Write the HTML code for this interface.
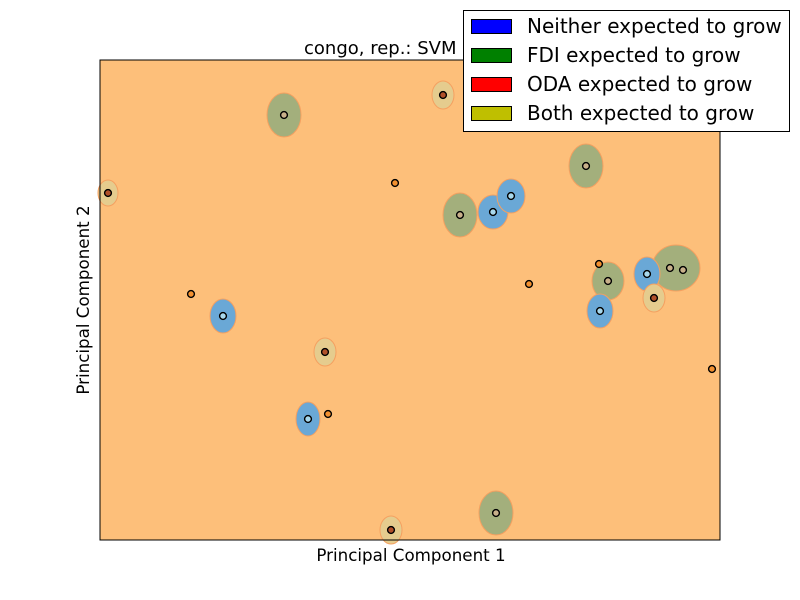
<!DOCTYPE html>
<html><head><meta charset="utf-8"><style>body{margin:0;background:#fff}svg{display:block;font-family:"DejaVu Sans","Liberation Sans",sans-serif}</style></head>
<body>
<svg id="c" width="800" height="600" xmlns="http://www.w3.org/2000/svg">
<text x="304" y="54" font-size="18">congo, rep.: SVM decision regions</text>
<rect x="100" y="60" width="620" height="480" fill="#fdbf7a"/>
<g id="regions"></g>
<g id="pts"></g>
<rect x="100" y="60" width="620" height="480" fill="none" stroke="#000" stroke-width="1"/>
<text x="411" y="561" font-size="16.7" text-anchor="middle">Principal Component 1</text>
<text x="89" y="300" font-size="16.7" text-anchor="middle" transform="rotate(-90 89 300)">Principal Component 2</text>
<g>
<rect x="463.5" y="10.5" width="326" height="121" fill="#fff" stroke="#000"/>
<g><rect x="471.5" y="19.5" width="40" height="14" fill="#0000ff" stroke="#000"/><text x="527" y="33" font-size="20">Neither expected to grow</text></g>
<g><rect x="471.5" y="48.5" width="40" height="14" fill="#008000" stroke="#000"/><text x="527" y="62" font-size="20">FDI expected to grow</text></g>
<g><rect x="471.5" y="77.5" width="40" height="14" fill="#ff0000" stroke="#000"/><text x="527" y="91" font-size="20">ODA expected to grow</text></g>
<g><rect x="471.5" y="106.5" width="40" height="14" fill="#bfbf00" stroke="#000"/><text x="527" y="120" font-size="20">Both expected to grow</text></g>
</g>
</svg>
<script>
// region blobs (data units: x 0..620, y 0..480)
const regionClass = ["fdi","fdi","fdi","fdi","fdi","fdi","neither","neither","neither","neither","neither","neither","both","both","both","both","both"];
const regionX = [184,486,360,396,576,508,393,411,123,208,500,547,343,8,225,291,554];
const regionY = [425,374,325,27,272,259,328,344,224,121,229,266,445,347,188,10,242];
const regionRX = [17,17,17,17,24,16,15,14,13,12,13,13,11,10,11,11,11];
const regionRY = [22,22,22,22,23,19,17,17,17,17,17,17,14,13,14,14,14];
// sample points
const ptClass = ["fdi","fdi","fdi","fdi","fdi","fdi","fdi","neither","neither","neither","neither","neither","neither","both","both","both","both","both","oda","oda","oda","oda","oda","oda"];
const ptX = [184,486,360,396,570,583,508,393,411,123,208,500,547,343,8,225,291,554,295,91,429,499,612,228];
const ptY = [425,374,325,27,272,270,259,328,344,224,121,229,266,445,347,188,10,242,357,246,256,276,171,126];
const fillC={fdi:"#a3af7c",neither:"#6aa8d6",both:"#e5cc8e"};
const ptC={fdi:"#c8b08a",neither:"#a8d8ec",both:"#b0502a",oda:"#f29030"};
const X=v=>100+v*620/620, Y=v=>540-v*480/480, R=v=>v;
const NS="http://www.w3.org/2000/svg";
const rg=document.getElementById("regions"), pg=document.getElementById("pts");
regionX.forEach((v,i)=>{
 const e=document.createElementNS(NS,"ellipse");
 e.setAttribute("cx",X(v));e.setAttribute("cy",Y(regionY[i]));
 e.setAttribute("rx",R(regionRX[i]));e.setAttribute("ry",R(regionRY[i]));
 e.setAttribute("fill",fillC[regionClass[i]]);e.setAttribute("stroke","#f5a060");e.setAttribute("stroke-width","1");
 
 
 rg.appendChild(e);
});
ptX.forEach((v,i)=>{
 const c=document.createElementNS(NS,"circle");
 c.setAttribute("cx",X(v));c.setAttribute("cy",Y(ptY[i]));c.setAttribute("r",3.4);
 c.setAttribute("fill",ptC[ptClass[i]]);c.setAttribute("stroke","#000");c.setAttribute("stroke-width","1.4");
 
 
 pg.appendChild(c);
});
</script>
</body></html>
